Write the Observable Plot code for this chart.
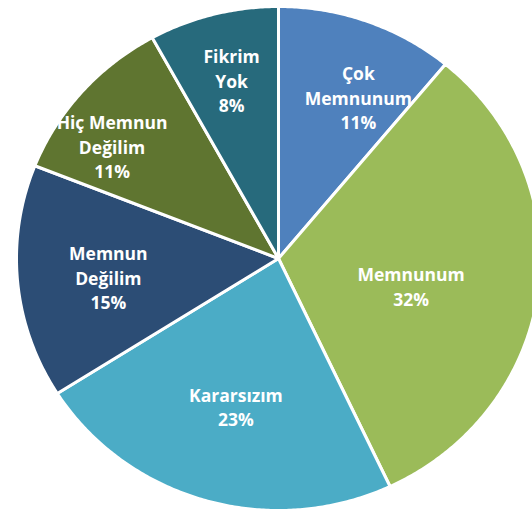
<!DOCTYPE html>
<html>
<head>
<meta charset="utf-8">
<script src="https://cdn.jsdelivr.net/npm/d3@7"></script>
<script src="https://cdn.jsdelivr.net/npm/@observablehq/plot@0.6"></script>
<style>
  html, body { margin: 0; padding: 0; background: #fff; }
  #chart svg { display: block; overflow: hidden; }
</style>
</head>
<body>
<div id="chart"></div>
<script>
// ---- data ----
const categories = ["Çok Memnunum", "Memnunum", "Kararsızım", "Memnun Değilim", "Hiç Memnun Değilim", "Fikrim Yok"];
const values = [11, 32, 23, 15, 11, 8];
const labelLines = ["Çok\nMemnunum", "Memnunum", "Kararsızım", "Memnun\nDeğilim", "Hiç Memnun\nDeğilim", "Fikrim\nYok"];
const colors = ["#4F81BD", "#9BBB59", "#4BACC6", "#2C4D75", "#5F7530", "#276A7C"];

// ---- layout (label placement inside slices) ----
const labelRadius = [0.70, 0.52, 0.62, 0.655, 0.77, 0.72];
const labelAngleShift = [6, 6, -1, -2, -7, 0]; // degrees

const data = categories.map((c, i) => ({category: c, value: values[i], idx: i}));
const arcs = d3.pie().sort(null).value(d => d.value)(data);

const wedgePts = [];
arcs.forEach(a => {
  const c = a.data.category;
  wedgePts.push({category: c, x: 0, y: 0});
  const steps = Math.max(2, Math.ceil((a.endAngle - a.startAngle) / (Math.PI / 360)));
  for (let k = 0; k <= steps; k++) {
    const t = a.startAngle + (a.endAngle - a.startAngle) * k / steps;
    wedgePts.push({category: c, x: Math.sin(t), y: Math.cos(t)});
  }
  wedgePts.push({category: c, x: 0, y: 0});
});

const labels = arcs.map(a => {
  const i = a.data.idx;
  const mid = (a.startAngle + a.endAngle) / 2 + labelAngleShift[i] * Math.PI / 180;
  const r = labelRadius[i];
  return {category: a.data.category, x: r * Math.sin(mid), y: r * Math.cos(mid),
          text: labelLines[i] + "\n" + a.data.value + "%"};
});

const chart = Plot.plot({
  width: 532,
  height: 513,
  margin: 0,
  x: {domain: [-1, 1], range: [16, 540], axis: null},
  y: {domain: [-1, 1], range: [510, 6], axis: null},
  color: {domain: categories, range: colors},
  marks: [
    Plot.line(wedgePts, {x: "x", y: "y", z: "category", fill: "category",
      stroke: "#ffffff", strokeWidth: 3, strokeLinejoin: "round", curve: "linear"}),
    Plot.text(labels, {x: "x", y: "y", text: "text", fill: "#ffffff", dy: -3,
      fontSize: 17.5, fontWeight: "bold", fontFamily: "Open Sans",
      lineHeight: 1.4, lineAnchor: "middle", textAnchor: "middle"})
  ]
});
document.getElementById("chart").appendChild(chart);
</script>
</body>
</html>
